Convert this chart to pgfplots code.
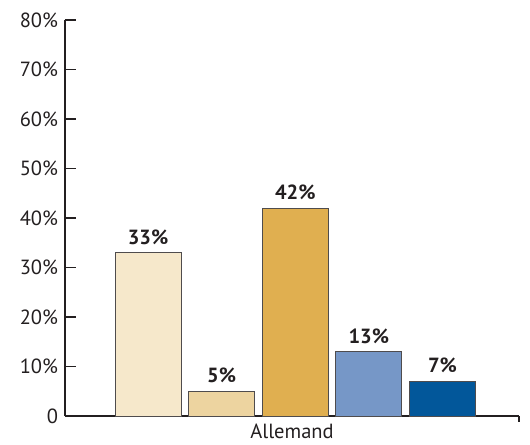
\documentclass[border=0pt]{standalone}
\usepackage{fontspec}
\setmainfont{PT Sans}
\usepackage{pgfplots}
\pgfplotsset{compat=1.18}
\definecolor{c1}{HTML}{F6E8CB}
\definecolor{c2}{HTML}{EDD4A0}
\definecolor{c3}{HTML}{E0AF50}
\definecolor{c4}{HTML}{7697C7}
\definecolor{c5}{HTML}{02579A}
\definecolor{ax}{HTML}{231F20}
\begin{document}
\fontsize{20.5bp}{24bp}\selectfont
\begin{tikzpicture}
\useasboundingbox (-65bp,-29bp) rectangle (465bp,416bp);
\begin{axis}[
  at={(0,0)}, anchor=south west,
  scale only axis, width=454bp, height=396bp,
  /pgf/number format/assume math mode=true,
  axis lines*=left,
  axis line style={ax, line width=1.1bp},
  xmin=-0.128, xmax=6.04, ymin=0, ymax=80,
  ytick={0,10,...,80},
  yticklabels={0,10\%,20\%,30\%,40\%,50\%,60\%,70\%,80\%},
  tick style={ax, line width=1.1bp},
  tick align=inside,
  major tick length=11bp,
  xtick=\empty,
  extra x ticks={6.04}, extra x tick labels={},
  extra x tick style={major tick length=6bp},
  ticklabel style={font=\fontsize{20.5bp}{24bp}\selectfont, text=ax},
  xlabel={Allemand},
  xlabel style={at={(axis description cs:0.5,0)}, anchor=north, yshift=-1bp, font=\fontsize{20.5bp}{24bp}\selectfont, text=ax},
  ybar, bar shift=0pt, bar width=0.897,
  every axis plot/.append style={draw=ax!80, line width=0.9bp},
  nodes near coords={\textbf{\pgfmathprintnumber{\pgfplotspointmeta}\%}},
  nodes near coords style={font=\fontsize{20.5bp}{24bp}\selectfont, text=ax, yshift=1bp},
  clip=false,
]
\addplot[fill=c1] coordinates {(1,33)};
\addplot[fill=c2] coordinates {(2,5)};
\addplot[fill=c3] coordinates {(3,42)};
\addplot[fill=c4] coordinates {(4,13)};
\addplot[fill=c5] coordinates {(5,7)};
\end{axis}
\end{tikzpicture}
\end{document}
